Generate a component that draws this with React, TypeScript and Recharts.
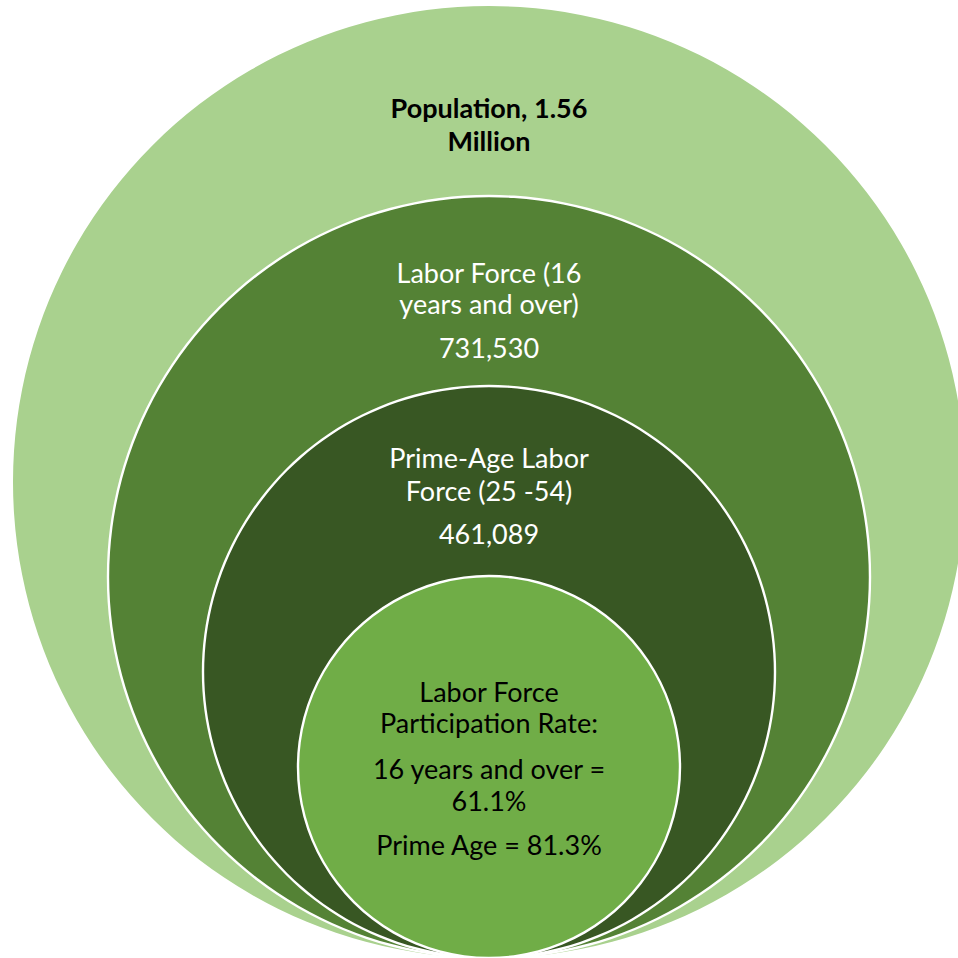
import { PieChart, Pie, Cell } from 'recharts';

// circles, outermost first
const CATEGORIES = [
  'Population',
  'Labor Force (16 years and over)',
  'Prime-Age Labor Force (25 -54)',
  'Labor Force Participation Rate',
];
const POPULATION_MILLIONS = 1.56;
const LABOR_FORCE = 731530;
const PRIME_AGE_LABOR_FORCE = 461089;
const RATE_16_AND_OVER = 61.1;
const RATE_PRIME_AGE = 81.3;

const VALUES = [
  POPULATION_MILLIONS * 1000000,
  LABOR_FORCE,
  PRIME_AGE_LABOR_FORCE,
  RATE_16_AND_OVER,
];

const fmt = (n: number) => new Intl.NumberFormat('en-US').format(n);

const LABEL_LINES: string[][] = [
  [`${CATEGORIES[0]}, ${POPULATION_MILLIONS}`, 'Million'],
  ['Labor Force (16', 'years and over)', fmt(LABOR_FORCE)],
  ['Prime-Age Labor', 'Force (25 -54)', fmt(PRIME_AGE_LABOR_FORCE)],
  [
    'Labor Force',
    'Participation Rate:',
    '16 years and over =',
    `${RATE_16_AND_OVER}%`,
    `Prime Age = ${RATE_PRIME_AGE}%`,
  ],
];

// layout (pixels)
const W = 958;
const H = 958;
const CX = 489;
const BOTTOM = 958;
const RADII = [476, 381, 286, 191];
const FILLS = ['#A9D18E', '#548235', '#385723', '#70AD47'];
const TEXT_COLORS = ['#000000', '#ffffff', '#ffffff', '#000000'];
// vertical offsets of each text line from the top of its circle
const LINE_OFFSETS = [
  [101, 134],
  [76, 107, 151],
  [71, 104, 147],
  [115, 146, 192, 224, 268],
];

const FONT = 'Lato, "Open Sans", sans-serif';

const makeLabel = (i: number) => (props: any) => {
  const cx = props.cx ?? CX;
  const cy = props.cy ?? BOTTOM - RADII[i];
  const r = props.outerRadius ?? RADII[i];
  const top = cy - r;
  return (
    <g key={`lbl-${i}`}>
      {LABEL_LINES[i].map((line, j) => (
        <text
          key={j}
          x={cx}
          y={top + LINE_OFFSETS[i][j]}
          textAnchor="middle"
          dominantBaseline="central"
          fill={TEXT_COLORS[i]}
          fontFamily={FONT}
          fontSize={27}
          fontWeight={i === 0 ? 700 : 400}
        >
          {line}
        </text>
      ))}
    </g>
  );
};

export default function App() {
  return (
    <div style={{ position: 'absolute', left: 0, top: 0, background: '#fff' }}>
      <PieChart width={W} height={H} margin={{ top: 0, right: 0, bottom: 0, left: 0 }}>
        {CATEGORIES.map((name, i) => {
          const r = RADII[i];
          const cy = BOTTOM - r;
          const data = [{ name, value: VALUES[i] }];
          return [
            <Pie
              key={`fill-${i}`}
              data={data}
              dataKey="value"
              cx={CX}
              cy={cy}
              innerRadius={0}
              outerRadius={r}
              startAngle={90}
              endAngle={-270}
              stroke="none"
              label={makeLabel(i)}
              labelLine={false}
              isAnimationActive={false}
            >
              <Cell fill={FILLS[i]} />
            </Pie>,
            i > 0 ? (
              <Pie
                key={`ring-${i}`}
                data={data}
                dataKey="value"
                cx={CX}
                cy={cy}
                innerRadius={r - 1.2}
                outerRadius={r + 1.2}
                startAngle={90}
                endAngle={-270}
                stroke="none"
                fill="#ffffff"
                label={false}
                labelLine={false}
                isAnimationActive={false}
              />
            ) : null,
          ];
        })}
      </PieChart>
    </div>
  );
}
